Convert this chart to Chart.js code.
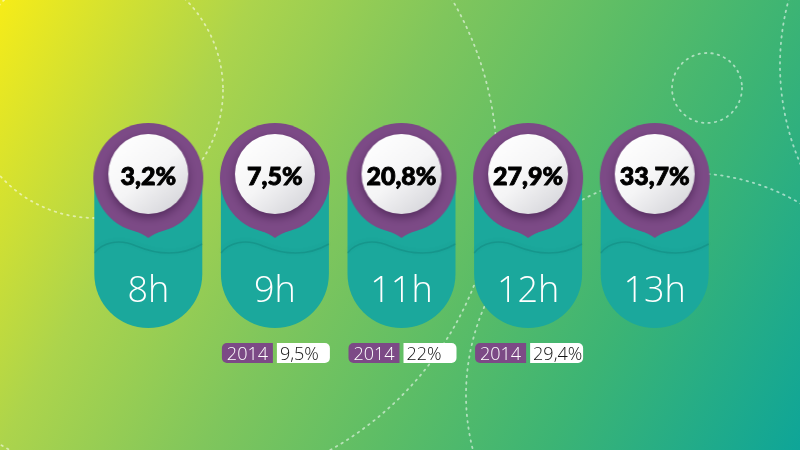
<!DOCTYPE html>
<html>
<head>
<meta charset="utf-8">
<script src="https://cdn.jsdelivr.net/npm/chart.js@4.4.1/dist/chart.umd.min.js"></script>
<style>
  html, body { margin: 0; padding: 0; background: #80c65c; }
  #wrap { width: 800px; height: 450px; }
</style>
</head>
<body>
<div id="wrap"><canvas id="chart" width="800" height="450"></canvas></div>
<script>
// share per hour of the day, with the 2014 figure where there is one
const hours = ['8h', '9h', '11h', '12h', '13h'];
const share = [3.2, 7.5, 20.8, 27.9, 33.7];
const share2014 = [null, 9.5, 22, 29.4, null];
const baseYear = '2014';

const PURPLE = '#7c4a86';
const TEAL = '#1ba89c';
// y scale is a plain 0..450 layout scale, top down
const HEAD_Y = 178;
const PILL = [130, 328];
const R_HEAD = 55, R_FACE = 40;

function fmt(v) { return String(v).replace('.', ','); }

// purple head + tip + white face, used as the point style
function makePin() {
  const c = document.createElement('canvas');
  c.width = 124; c.height = 140;
  const g = c.getContext('2d');
  const cx = 62, cy = 70;
  g.fillStyle = PURPLE;
  g.beginPath();
  g.arc(cx, cy, R_HEAD, 0, Math.PI * 2);
  g.fill();
  g.beginPath();
  g.moveTo(cx - 16, cy + R_HEAD - 3);
  g.quadraticCurveTo(cx - 5, cy + R_HEAD + 1, cx, cy + R_HEAD + 5);
  g.quadraticCurveTo(cx + 5, cy + R_HEAD + 1, cx + 16, cy + R_HEAD - 3);
  g.closePath();
  g.fill();
  g.save();
  g.shadowColor = 'rgba(40,10,50,0.45)';
  g.shadowBlur = 8;
  g.shadowOffsetY = 4;
  const grad = g.createLinearGradient(cx - 30, cy - 40, cx + 30, cy + 35);
  grad.addColorStop(0, '#ffffff');
  grad.addColorStop(0.5, '#f5f5f6');
  grad.addColorStop(1, '#d4d4d9');
  g.fillStyle = grad;
  g.beginPath();
  g.arc(cx, cy - 4, R_FACE, 0, Math.PI * 2);
  g.fill();
  g.restore();
  return c;
}

const backdrop = {
  id: 'backdrop',
  beforeDraw(chart) {
    const ctx = chart.ctx;
    const w = chart.width, h = chart.height;
    ctx.save();
    const bg = ctx.createLinearGradient(0, 0, w, h);
    bg.addColorStop(0, '#f6ec18');
    bg.addColorStop(0.24, '#acd44c');
    bg.addColorStop(0.43, '#80c65c');
    bg.addColorStop(0.6, '#5cbd66');
    bg.addColorStop(0.76, '#3cb474');
    bg.addColorStop(1, '#0ea598');
    ctx.fillStyle = bg;
    ctx.fillRect(0, 0, w, h);

    ctx.strokeStyle = 'rgba(255,255,255,0.55)';
    ctx.lineWidth = 1.8;
    ctx.lineCap = 'round';
    ctx.setLineDash([1.5, 5]);
    [[95, 90, 128], [170, 165, 327], [688, 395, 222], [707, 88, 35], [1030, 65, 250]].forEach(([x, y, r]) => {
      ctx.beginPath();
      ctx.arc(x, y, r, 0, Math.PI * 2);
      ctx.stroke();
    });
    ctx.restore();
  }
};

const labels = {
  id: 'labels',
  afterDatasetsDraw(chart) {
    const ctx = chart.ctx;
    const bars = chart.getDatasetMeta(1).data;
    ctx.save();
    bars.forEach((bar, i) => {
      const c = bar.x, hw = bar.width / 2;

      // wave across the pill
      ctx.save();
      ctx.strokeStyle = 'rgba(10,95,90,0.22)';
      ctx.lineWidth = 1.5;
      ctx.shadowColor = 'rgba(0,60,60,0.3)';
      ctx.shadowBlur = 4;
      ctx.shadowOffsetY = -1;
      ctx.beginPath();
      ctx.moveTo(c - hw, 253);
      ctx.bezierCurveTo(c - hw + 8, 243, c - 30, 238, c - 12, 246);
      ctx.bezierCurveTo(c + 5, 253, c + 30, 258, c + hw, 244);
      ctx.stroke();
      ctx.restore();

      ctx.textAlign = 'center';
      ctx.textBaseline = 'alphabetic';
      ctx.fillStyle = '#ffffff';
      ctx.font = '300 36px "Open Sans"';
      ctx.fillText(hours[i], c, 302);

      ctx.fillStyle = '#000000';
      ctx.strokeStyle = '#000000';
      ctx.lineWidth = 0.9;
      ctx.font = '900 25px Lato';
      const txt = share[i].toFixed(1).replace('.', ',') + '%';
      ctx.fillText(txt, c, 185);
      ctx.strokeText(txt, c, 185);

      const old = share2014[i];
      if (old !== null) {
        ctx.fillStyle = PURPLE;
        ctx.beginPath();
        ctx.roundRect(c - 53, 343, 51, 20, [5, 0, 0, 5]);
        ctx.fill();
        ctx.fillStyle = '#ffffff';
        ctx.beginPath();
        ctx.roundRect(c + 2, 343, 53, 20, [0, 5, 5, 0]);
        ctx.fill();
        ctx.font = '300 18px "Open Sans"';
        ctx.textAlign = 'center';
        ctx.fillStyle = '#ffffff';
        ctx.fillText(baseYear, c - 27.5, 360);
        ctx.textAlign = 'left';
        ctx.fillStyle = '#111111';
        ctx.fillText(fmt(old) + '%', c + 5, 360);
      }
    });
    ctx.restore();
  }
};

const pin = makePin();

new Chart(document.getElementById('chart'), {
  type: 'bar',
  data: {
    labels: hours,
    datasets: [
      {
        type: 'line',
        label: 'pins',
        data: hours.map(() => HEAD_Y),
        showLine: false,
        pointStyle: pin,
        pointRadius: R_HEAD,
        order: 1
      },
      {
        type: 'bar',
        label: 'pills',
        data: hours.map(() => PILL),
        backgroundColor: TEAL,
        borderRadius: 54,
        borderSkipped: false,
        barPercentage: 0.853,
        categoryPercentage: 1,
        order: 2
      }
    ]
  },
  options: {
    responsive: false,
    animation: false,
    events: [],
    layout: { autoPadding: false, padding: { left: 85, right: 82, top: 0, bottom: 0 } },
    scales: {
      x: { display: false, offset: true },
      y: { display: false, min: 0, max: 450, reverse: true }
    },
    plugins: { legend: { display: false }, tooltip: { enabled: false } }
  },
  plugins: [backdrop, labels]
});
</script>
</body>
</html>
